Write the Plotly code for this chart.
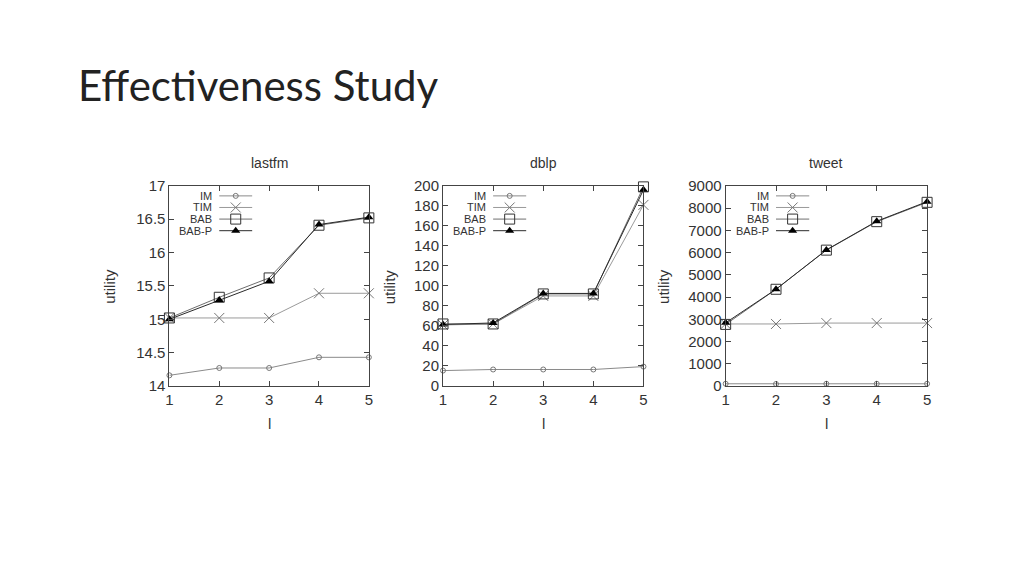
import plotly.graph_objects as go

l_vals = [1, 2, 3, 4, 5]
series_names = ["IM", "TIM", "BAB", "BAB-P"]
panel_titles = ["lastfm", "dblp", "tweet"]

lastfm_im = [14.16, 14.27, 14.27, 14.43, 14.43]
lastfm_tim = [15.02, 15.02, 15.02, 15.39, 15.39]
lastfm_bab = [15.02, 15.33, 15.62, 16.41, 16.52]
lastfm_babp = [15.00, 15.29, 15.57, 16.42, 16.53]

dblp_im = [15.4, 16.5, 16.5, 16.5, 19.4]
dblp_tim = [61, 62, 90, 90, 181]
dblp_bab = [62, 62, 92, 92, 199]
dblp_babp = [61.5, 63, 92.5, 92.5, 196]

tweet_im = [100, 90, 100, 100, 100]
tweet_tim = [2790, 2790, 2830, 2830, 2830]
tweet_bab = [2770, 4350, 6110, 7390, 8260]
tweet_babp = [2840, 4350, 6120, 7410, 8290]

y_ranges = [[14, 17], [0, 200], [0, 9000]]
y_dticks = [0.5, 20, 1000]

data = [
    [lastfm_im, lastfm_tim, lastfm_bab, lastfm_babp],
    [dblp_im, dblp_tim, dblp_bab, dblp_babp],
    [tweet_im, tweet_tim, tweet_bab, tweet_babp],
]

styles = [
    dict(line=dict(color="#8a8a8a", width=1), marker=dict(symbol="circle-open", size=5, color="#777", line=dict(width=1, color="#777"))),
    dict(line=dict(color="#9a9a9a", width=1), marker=dict(symbol="x-thin", size=10, color="#777", line=dict(width=1, color="#777"))),
    dict(line=dict(color="#6e6e6e", width=1), marker=dict(symbol="square-open", size=10, color="#333", line=dict(width=1, color="#333"))),
    dict(line=dict(color="#2a2a2a", width=1), marker=dict(symbol="triangle-up", size=8, color="#000", line=dict(width=0))),
]


def PX(x):
    # target pixel -> paper x (compensates the page framing seen in the render)
    return (x / 0.99 - 5) / 1024


def PY(y):
    return 1 - (y / 0.965 - 10.5) / 576


x_domains = [[PX(170), PX(369)], [PX(443), PX(643)], [PX(725), PX(926)]]
y_domain = [PY(385), PY(186)]

FONT = "Liberation Sans, Arial, sans-serif"
fig = go.Figure()
layout = dict(
    width=1024, height=576, margin=dict(l=0, r=0, t=0, b=0),
    paper_bgcolor="white", plot_bgcolor="rgba(0,0,0,0)", showlegend=False,
    font=dict(family=FONT, color="#333"),
)
annotations = []

for i in range(3):
    xa = "x" if i == 0 else f"x{i+1}"
    ya = "y" if i == 0 else f"y{i+1}"
    lxa = f"x{i+4}"
    lya = f"y{i+4}"
    for s in range(4):
        fig.add_trace(go.Scatter(
            x=l_vals, y=data[i][s], mode="lines+markers", name=series_names[s],
            xaxis=xa, yaxis=ya, cliponaxis=False, **styles[s]))
    axis_common = dict(
        showgrid=False, zeroline=False, showline=True, linecolor="#444", linewidth=1,
        mirror="ticks", ticks="inside", ticklen=5, tickcolor="#444",
        tickfont=dict(family=FONT, size=15, color="#333"),
    )
    layout["xaxis" if i == 0 else f"xaxis{i+1}"] = dict(
        domain=x_domains[i], range=[1, 5], dtick=1, anchor=ya, **axis_common)
    layout["yaxis" if i == 0 else f"yaxis{i+1}"] = dict(
        domain=y_domain, range=y_ranges[i], dtick=y_dticks[i], anchor=xa, **axis_common)
    layout[f"xaxis{i+4}"] = dict(domain=x_domains[i], range=[0, 1], visible=False, anchor=lya, fixedrange=True)
    layout[f"yaxis{i+4}"] = dict(domain=y_domain, range=[0, 1], visible=False, anchor=lxa, fixedrange=True)
    rows = [0.95, 0.892, 0.834, 0.776]
    for s in range(4):
        st = styles[s]
        fig.add_trace(go.Scatter(x=[0.25, 0.415], y=[rows[s], rows[s]], mode="lines",
                                 line=st["line"], xaxis=lxa, yaxis=lya, hoverinfo="skip"))
        fig.add_trace(go.Scatter(x=[0.3325], y=[rows[s]], mode="markers",
                                 marker=st["marker"], xaxis=lxa, yaxis=lya, hoverinfo="skip", cliponaxis=False))
        annotations.append(dict(x=0.225, y=rows[s], xref=f"x{i+4}", yref=f"y{i+4}", text=series_names[s],
                                showarrow=False, xanchor="right", yanchor="middle",
                                font=dict(family=FONT, size=11, color="#333")))
    cx = (x_domains[i][0] + x_domains[i][1]) / 2
    annotations.append(dict(x=cx, y=PY(163), xref="paper", yref="paper", text=panel_titles[i],
                            showarrow=False, xanchor="center", yanchor="middle",
                            font=dict(family=FONT, size=14, color="#333")))
    annotations.append(dict(x=cx, y=PY(422), xref="paper", yref="paper", text="l",
                            showarrow=False, xanchor="center", yanchor="middle",
                            font=dict(family=FONT, size=15, color="#333")))
    ylab_x = PX([110, 390, 663][i])
    annotations.append(dict(x=ylab_x, y=PY(286), xref="paper", yref="paper", text="utility",
                            textangle=-90, showarrow=False, xanchor="center", yanchor="middle",
                            font=dict(family=FONT, size=15, color="#333")))

annotations.append(dict(x=PX(77), y=PY(86), xref="paper", yref="paper", text="Effectiveness Study",
                        showarrow=False, xanchor="left", yanchor="middle",
                        font=dict(family="Lato, Open Sans, sans-serif", size=42, color="#222")))
layout["annotations"] = annotations
fig.update_layout(**layout)
fig.write_html("out.html", config={"displayModeBar": False},
               post_script="document.body.style.margin='0';")
